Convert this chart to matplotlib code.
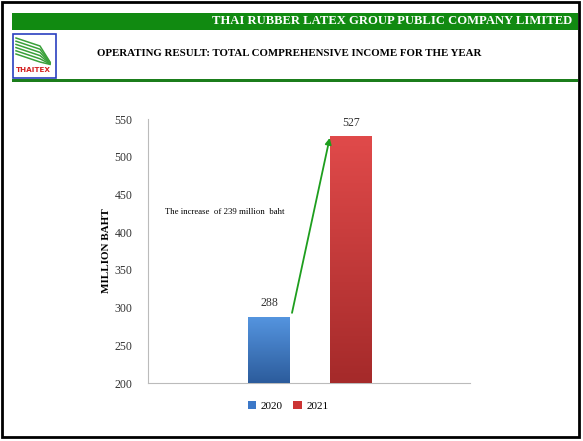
import numpy as np
import matplotlib.pyplot as plt
from matplotlib.patches import Rectangle
from matplotlib.colors import LinearSegmentedColormap

years = ["2020", "2021"]
income = [288, 527]
increase = 239
yticks = [200, 250, 300, 350, 400, 450, 500, 550]

plt.rcParams['font.family'] = ['Liberation Serif', 'DejaVu Serif']

fig = plt.figure(figsize=(5.83, 4.41), dpi=100)

# header / frame drawn in pixel coords
bg = fig.add_axes([0, 0, 1, 1])
bg.set_xlim(0, 583)
bg.set_ylim(441, 0)
bg.axis('off')
bg.add_patch(Rectangle((2, 2), 577, 435, fill=False, ec='black', lw=2))
bg.add_patch(Rectangle((12, 13), 566, 17, fc='#118a11', ec='none'))
bg.add_patch(Rectangle((12, 79), 566, 2.5, fc='#1b7d1b', ec='none'))
bg.text(572, 21.5, "THAI RUBBER LATEX GROUP PUBLIC COMPANY LIMITED", color='white',
        fontsize=9.1, fontweight='bold', ha='right', va='center')
bg.text(289, 53, "OPERATING RESULT: TOTAL COMPREHENSIVE INCOME FOR THE YEAR",
        fontsize=7.8, fontweight='bold', ha='center', va='center')
# logo
bg.add_patch(Rectangle((12.5, 33.5), 43, 44, fill=False, ec='#2a3fc0', lw=1.2))
for k in range(6):
    o = k * 3.2
    bg.plot([16, 40, 50], [38 + o, 46 + o, 62 + o * 0.15], color='#3aa03a', lw=1.1)
bg.text(33, 70, "THAITEX", color='#d42020', fontsize=5.2, fontweight='bold',
        ha='center', va='center', family='DejaVu Sans')

ax = fig.add_axes([0.2539, 0.1315, 0.5523, 0.5986])
x = np.arange(len(years))
cols = ['#3c78c8', '#cc3434']
tops = ['#5595e0', '#e04a4a']
bots = ['#2c5c9c', '#a52a2a']
bars = ax.bar(x, income, width=0.51, color=cols, bottom=0, zorder=2)
for b, t, bo in zip(bars, tops, bots):
    cm = LinearSegmentedColormap.from_list('g', [bo, t])
    grad = np.linspace(0, 1, 100).reshape(-1, 1)
    im = ax.imshow(grad, cmap=cm, aspect='auto', origin='lower', zorder=3,
                   extent=[b.get_x(), b.get_x() + b.get_width(), 200, b.get_height()])
    im.set_clip_path(b)
for xi, v in zip(x, income):
    ax.text(xi, v + 10, str(v), ha='center', va='bottom', fontsize=8.5, color='#333333')

ax.annotate("", xy=(0.74, income[1] - 2), xytext=(0.28, income[0] + 5),
            arrowprops=dict(arrowstyle='-|>', color='#1e9e1e', lw=1.3, mutation_scale=9,
                            shrinkA=0, shrinkB=0))
ax.text(-1.27, 427, f"The increase  of {increase} million  baht", fontsize=6.3,
        ha='left', va='center')

ax.set_xlim(-1.476, 2.451)
ax.set_ylim(200, 550)
ax.set_yticks(yticks)
ax.set_xticks([])
ax.tick_params(axis='y', length=0, labelsize=8.5, labelcolor='#333333', pad=11)
for s in ['top', 'right']:
    ax.spines[s].set_visible(False)
ax.spines['left'].set_color('#bbbbbb')
ax.spines['bottom'].set_color('#bbbbbb')
ax.set_ylabel("MILLION BAHT", fontsize=8, fontweight='bold', labelpad=3)

handles = [Rectangle((0, 0), 1, 1, fc=c) for c in cols]
fig.legend(handles, years, loc='center', bbox_to_anchor=(288 / 583, 1 - 406 / 441),
           ncol=2, frameon=False, fontsize=8, handlelength=0.8, handleheight=0.8,
           handletextpad=0.4, columnspacing=0.9)

fig.savefig('out.png', dpi=100)
